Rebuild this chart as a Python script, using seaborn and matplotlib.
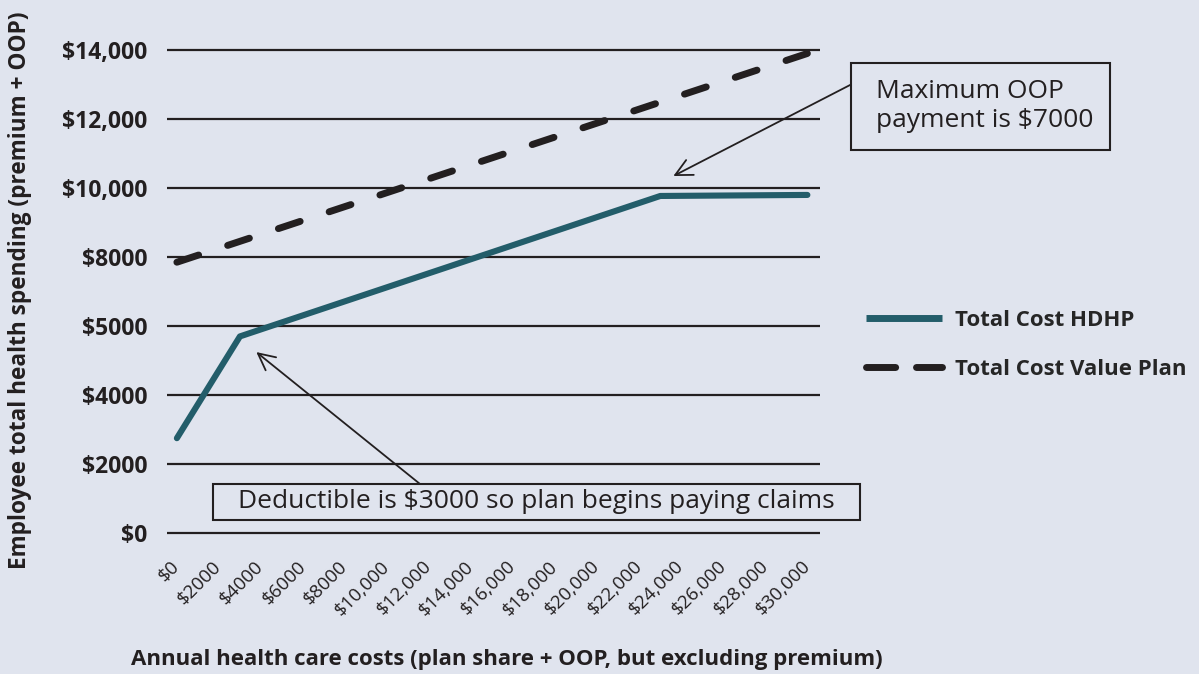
import numpy as np
import pandas as pd
import seaborn as sns
import matplotlib
matplotlib.use("Agg")
import matplotlib.pyplot as plt
from matplotlib.patches import Rectangle
from matplotlib.lines import Line2D

# ---------------- data ----------------
series_names = ["Total Cost HDHP", "Total Cost Value Plan"]
annual_costs_hdhp = [0, 3000, 23000, 30000]
total_cost_hdhp = [2750, 5700, 9770, 9800]
annual_costs_value = [0, 30000]
total_cost_value = [7850, 13900]

x_ticks = list(range(0, 30001, 2000))
x_tick_labels = ["$0", "$2000", "$4000", "$6000", "$8000", "$10,000", "$12,000",
                 "$14,000", "$16,000", "$18,000", "$20,000", "$22,000", "$24,000",
                 "$26,000", "$28,000", "$30,000"]
y_ticks = [0, 2000, 4000, 6000, 8000, 10000, 12000, 14000]
y_tick_labels = ["$0", "$2000", "$4000", "$5000", "$8000", "$10,000", "$12,000", "$14,000"]

x_label = "Annual health care costs (plan share + OOP, but excluding premium)"
y_label = "Employee total health spending (premium + OOP)"
note_oop = "Maximum OOP\npayment is $7000"
note_deductible = "Deductible is $3000 so plan begins paying claims"

df = pd.DataFrame({
    "cost": annual_costs_hdhp + annual_costs_value,
    "spend": total_cost_hdhp + total_cost_value,
    "series": [series_names[0]] * len(annual_costs_hdhp) + [series_names[1]] * len(annual_costs_value),
})

# ---------------- style ----------------
BG = "#e0e4ee"
DARK = "#231f20"
TEAL = "#235d6a"
sns.set_style("white", {"axes.facecolor": BG, "figure.facecolor": BG})
plt.rcParams["font.family"] = ["Open Sans", "DejaVu Sans"]

W, H = 1199, 674
fig = plt.figure(figsize=(W / 100, H / 100), dpi=100)
fig.patch.set_facecolor(BG)

def fx(px):
    return px / W

def fy(py):
    return 1 - py / H

ax_left, ax_right = 167, 820
ax_top, ax_bottom = 29.3, 540.0
ax = fig.add_axes([fx(ax_left), fy(ax_bottom), (ax_right - ax_left) / W, (ax_bottom - ax_top) / H])
ax.set_facecolor(BG)

sns.lineplot(data=df, x="cost", y="spend", hue="series", style="series",
             palette={series_names[0]: TEAL, series_names[1]: DARK},
             dashes={series_names[0]: "", series_names[1]: (3.3, 4.4)},
             linewidth=5, sort=False, estimator=None, ax=ax, legend=False, zorder=3)
for ln in ax.get_lines():
    ln.set_dash_capstyle("round")
    ln.set_solid_capstyle("round")
ax.get_lines()[0].set_linewidth(4.4)

ax.set_xlim(-470, 30600)
ax.set_ylim(-200, 14600)

for s in ax.spines.values():
    s.set_visible(False)

ax.set_yticks(y_ticks)
ax.set_yticklabels(y_tick_labels, fontsize=16.5, fontweight="bold", color=DARK)
ax.set_xticks(x_ticks)
ax.set_xticklabels(x_tick_labels, fontsize=13.5, color=DARK, rotation=45,
                   ha="right", va="center", rotation_mode="anchor")
ax.tick_params(axis="y", length=0, pad=14)
ax.tick_params(axis="x", length=0, pad=17)
ax.yaxis.grid(True, color=DARK, linewidth=1.6)
ax.xaxis.grid(False)
ax.set_axisbelow(True)
ax.set_xlabel("")
ax.set_ylabel("")

fig.text(fx(507), fy(660), x_label, ha="center", va="center",
         fontsize=16, fontweight="bold", color=DARK)
fig.text(fx(20), fy(290), y_label, ha="center", va="center", rotation=90,
         fontsize=16.3, fontweight="bold", color=DARK)

# legend
handles = [Line2D([], [], color=TEAL, linewidth=5, solid_capstyle="butt"),
           Line2D([], [], color=DARK, linewidth=5, dashes=(4.2, 3.0), dash_capstyle="round")]
fig.legend(handles, series_names, loc="upper left",
           bbox_to_anchor=(fx(866), fy(310)), frameon=False, borderpad=0,
           borderaxespad=0, handlelength=3.4, handletextpad=0.6, labelspacing=1.25,
           prop={"weight": "bold", "size": 16})

# annotation boxes
fig.patches.append(Rectangle((fx(851), fy(150)), (1110 - 851) / W, (150 - 63) / H,
                             transform=fig.transFigure, facecolor=BG, edgecolor=DARK,
                             linewidth=1.5, zorder=5))
fig.text(fx(876), fy(106), note_oop, ha="left", va="center", fontsize=19,
         color=DARK, linespacing=1.2, zorder=6)
fig.patches.append(Rectangle((fx(213), fy(520)), (860 - 213) / W, (520 - 484) / H,
                             transform=fig.transFigure, facecolor=BG, edgecolor=DARK,
                             linewidth=1.5, zorder=5))
fig.text(fx(536), fy(502), note_deductible, ha="center", va="center", fontsize=19,
         color=DARK, zorder=6)

arrow_kw = dict(arrowstyle="->", color=DARK, linewidth=1.3, mutation_scale=30,
                shrinkA=0, shrinkB=0)
ax.annotate("", xy=(23622, 10348), xycoords="data",
            xytext=(fx(852), fy(84)), textcoords="figure fraction",
            arrowprops=arrow_kw)
ax.annotate("", xy=(3780, 5246), xycoords="data",
            xytext=(fx(420), fy(484)), textcoords="figure fraction",
            arrowprops=arrow_kw)

fig.savefig("out.png", dpi=100, facecolor=BG)
